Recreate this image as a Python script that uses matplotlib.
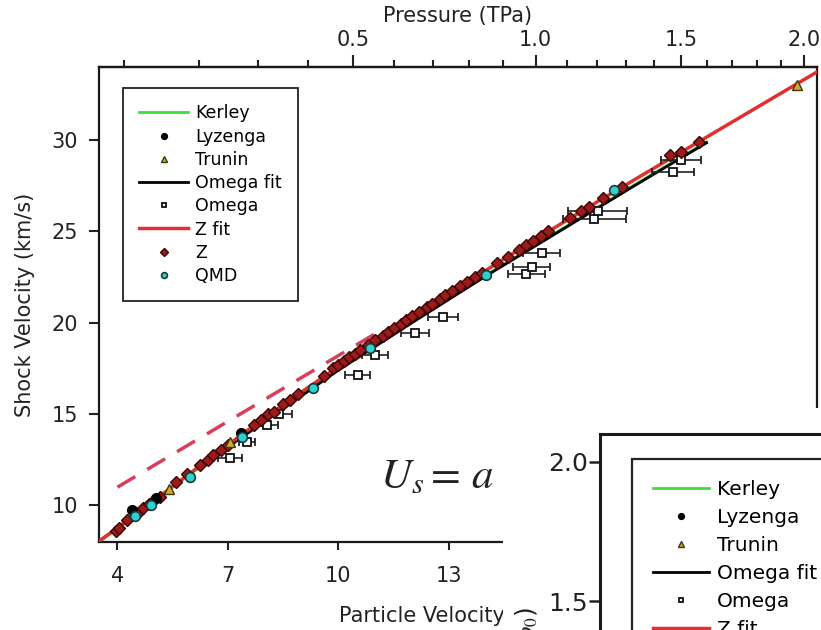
import numpy as np
import matplotlib
matplotlib.use('Agg')
import matplotlib.pyplot as plt
from matplotlib.patches import Rectangle
from matplotlib.ticker import FormatStrFormatter

plt.rcParams['font.family'] = ['DejaVu Sans']
plt.rcParams['mathtext.fontset'] = 'stix'

# --- data (particle velocity km/s, shock velocity km/s) ---
rho0 = 2.65  # g/cc, used for the pressure axis

zfit_up = [3.5, 4, 4.5, 5, 5.5, 6, 6.5, 7, 7.5, 8, 8.5, 9, 9.5, 10, 11, 12, 13,
           14, 15, 16, 17, 18, 19, 20, 21, 22, 23]
zfit_us = [8.05, 8.77, 9.51, 10.27, 11.04, 11.80, 12.56, 13.31, 14.06, 14.78,
           15.50, 16.21, 16.90, 17.59, 18.95, 20.28, 21.58, 22.86, 24.12, 25.36,
           26.58, 27.78, 28.97, 30.16, 31.35, 32.54, 33.73]

lin_up = [4.0, 11.0]
lin_us = [11.0, 19.4]

kerley_up = [3.5, 4, 5, 6, 7, 8, 10, 12, 14, 16, 18, 20]
kerley_us = [8.0, 8.75, 10.25, 11.75, 13.2, 14.65, 17.45, 20.05, 22.6, 25.05, 27.5, 29.9]

omfit_up = [6.5, 8, 10, 12, 14, 16, 18, 20]
omfit_us = [12.5, 14.6, 17.4, 20.0, 22.55, 25.0, 27.45, 29.85]

z_up = [3.95, 4.05, 4.25, 4.55, 4.7, 4.85, 5.0, 5.15, 5.6, 5.9, 6.25, 6.45, 6.6,
        6.8, 7.0, 7.7, 7.9, 8.1, 8.25, 8.5, 8.7, 8.9, 9.6, 9.85, 10.0, 10.15,
        10.3, 10.45, 10.6, 10.8, 11.0, 11.2, 11.35, 11.5, 11.7, 11.85, 12.0,
        12.2, 12.4, 12.55, 12.75, 12.9, 13.1, 13.3, 13.5, 13.7, 13.9, 14.3,
        14.6, 14.9, 15.1, 15.3, 15.5, 15.7, 16.3, 16.6, 16.8, 17.2, 17.7, 19.0,
        19.3, 19.8]
z_us = [8.62, 8.78, 9.2, 9.6, 9.85, 10.1, 10.3, 10.45, 11.3, 11.7, 12.2, 12.5,
        12.75, 13.05, 13.3, 14.4, 14.7, 15.0, 15.1, 15.55, 15.8, 16.1, 17.1,
        17.5, 17.7, 17.9, 18.1, 18.3, 18.5, 18.8, 19.05, 19.3, 19.5, 19.7,
        19.95, 20.15, 20.35, 20.6, 20.85, 21.05, 21.3, 21.5, 21.75, 22.0,
        22.25, 22.5, 22.75, 23.25, 23.6, 24.0, 24.25, 24.5, 24.75, 25.0, 25.75,
        26.1, 26.35, 26.85, 27.45, 29.2, 29.35, 29.9]

lyz_up = [4.4, 5.05, 7.35]
lyz_us = [9.75, 10.4, 13.95]

trunin_up = [5.4, 7.06, 22.45]
trunin_us = [10.9, 13.5, 33.0]

qmd_up = [4.49, 4.9, 5.98, 7.39, 9.31, 10.86, 14.0, 17.5]
qmd_us = [9.4, 10.05, 11.58, 13.77, 16.45, 18.63, 22.6, 27.25]

omega_up = [7.06, 7.52, 8.05, 8.4, 10.53, 10.99, 12.08, 12.84, 15.11, 15.25,
            15.52, 16.95, 17.04, 19.1, 19.31]
omega_us = [12.62, 13.5, 14.4, 15.0, 17.16, 18.25, 19.45, 20.33, 22.68, 23.06,
            23.83, 25.68, 26.1, 28.25, 28.9]
omega_err = [0.33, 0.22, 0.3, 0.35, 0.34, 0.35, 0.38, 0.4, 0.5, 0.5, 0.5, 0.85,
             0.8, 0.57, 0.55]

labels = ['Kerley', 'Lyzenga', 'Trunin', 'Omega fit', 'Omega', 'Z fit', 'Z', 'QMD']

W, H = 821, 630
fig = plt.figure(figsize=(W / 100, H / 100), dpi=100)
ax = fig.add_axes([99 / W, 88 / H, 718 / W, 475 / H])

h_ker, = ax.plot(kerley_up, kerley_us, color='#3ddc3d', lw=2, zorder=2)
h_om, = ax.plot(omfit_up, omfit_us, color='black', lw=2, zorder=2)
ax.plot(lin_up, lin_us, color='#d8405a', lw=2.5, dashes=(6, 4), zorder=2)
h_zf, = ax.plot(zfit_up, zfit_us, color='#e03030', lw=2.5, zorder=3)
eb = ax.errorbar(omega_up, omega_us, xerr=omega_err, fmt='s', ms=6, mfc='white',
                 mec='#111111', mew=1.3, ecolor='#222222', elinewidth=1.2,
                 capsize=3, zorder=4)
h_z, = ax.plot(z_up, z_us, 'D', ms=6.5, mfc='#9c1a1a', mec='#3b0505', mew=1,
               ls='none', zorder=5)
h_lyz, = ax.plot(lyz_up, lyz_us, 'o', ms=7, mfc='black', mec='black',
                 ls='none', zorder=5)
h_tr, = ax.plot(trunin_up, trunin_us, '^', ms=7, mfc='#d9a62a', mec='#3a3a10',
                mew=1, ls='none', zorder=5)
h_qmd, = ax.plot(qmd_up, qmd_us, 'o', ms=7, mfc='#2ed0d0', mec='#1a3a3a',
                 mew=1.2, ls='none', zorder=6)

handles = [h_ker, h_lyz, h_tr, h_om, eb[0], h_zf, h_z, h_qmd]

ax.set_xlim(3.5, 23)
ax.set_ylim(8, 34)
ax.set_xticks([4, 7, 10, 13, 16, 19, 22])
ax.set_yticks([10, 15, 20, 25, 30])
ax.tick_params(axis='x', length=6, width=1.5, direction='out', labelsize=15,
               pad=11, colors='#222222')
ax.tick_params(axis='y', length=7, width=1.5, direction='out', labelsize=15,
               pad=8, colors='#222222')
ax.tick_params(top=False, right=False)
for s in ax.spines.values():
    s.set_linewidth(1.6)
    s.set_color('#1a1a1a')
ax.set_xlabel('Particle Velocity (km/s)', fontsize=15, labelpad=15, color='#222222')
ax.set_ylabel('Shock Velocity (km/s)', fontsize=15, labelpad=12, color='#222222')

# pressure axis on top
up_grid = np.linspace(2, 25, 500)
us_grid = np.interp(up_grid, zfit_up, zfit_us)
p_grid = rho0 * us_grid * up_grid / 1000.0


def up_to_p(u):
    return np.interp(u, up_grid, p_grid)


def p_to_up(p):
    return np.interp(p, p_grid, up_grid)


sec = ax.secondary_xaxis('top', functions=(up_to_p, p_to_up))
sec.set_xticks([0.5, 1.0, 1.5, 2.0])
sec.set_xticks([0.1, 0.2, 0.3, 0.4, 0.6, 0.7, 0.8, 0.9, 1.1, 1.2, 1.3, 1.4,
                1.6, 1.7, 1.8, 1.9], minor=True)
sec.xaxis.set_major_formatter(FormatStrFormatter('%.1f'))
sec.tick_params(which='major', length=9, width=1.5, labelsize=15, pad=3,
                colors='#222222')
sec.tick_params(which='minor', length=5, width=1.5, colors='#222222')
sec.spines['top'].set_linewidth(1.6)
sec.set_xlabel('Pressure (TPa)', fontsize=15, labelpad=6, color='#222222')

leg = ax.legend(handles, labels, loc='upper left',
                bbox_to_anchor=(24 / 718, (542 - 88) / 475), borderaxespad=0,
                fontsize=12.5, fancybox=False, edgecolor='#222222',
                framealpha=1, handlelength=2.8, handletextpad=0.4,
                labelspacing=0.3, borderpad=0.95, markerscale=0.6)
leg.get_frame().set_linewidth(1.3)

ax.text((380 - 99) / 718, (542 - 488) / 475,
        r'$U_s = \,a\;+\;b u_p - c u_p\,\exp(-d u_p)$', transform=ax.transAxes,
        fontsize=31, ha='left', va='baseline', color='#222222')

# white block from the overlapping panel
fig.patches.append(Rectangle((503 / W, 0), 1 - 503 / W, (H - 408) / H,
                             transform=fig.transFigure, facecolor='white',
                             edgecolor='none', zorder=1))

# second panel (cut off at bottom right)
iax = fig.add_axes([600 / W, -250 / H, 0.5, 446 / H])
iax.set_zorder(2)
iax.set_ylim(0.5, 2.1)
iax.set_xlim(0, 1)
iax.set_xticks([])
iax.set_yticks([1.0, 1.5, 2.0])
iax.yaxis.set_major_formatter(FormatStrFormatter('%.1f'))
iax.tick_params(axis='y', length=8, width=1.8, labelsize=18, pad=1,
                colors='#222222')
for s in iax.spines.values():
    s.set_linewidth(2.2)
    s.set_color('#1a1a1a')

leg2 = iax.legend(handles, labels, loc='upper left',
                  bbox_to_anchor=(632 / W, (H - 459) / H),
                  bbox_transform=fig.transFigure, borderaxespad=0,
                  fontsize=14.5, fancybox=False, edgecolor='#222222',
                  framealpha=1, handlelength=2.75, handletextpad=0.4,
                  labelspacing=0.45, borderpad=1.05, markerscale=0.6)
leg2.get_frame().set_linewidth(1.6)

fig.text(527 / W, (H - 607) / H, r'Compression ($\rho/\rho_0$)', rotation=90,
         ha='center', va='top', fontsize=18, color='#222222', zorder=4)

fig.savefig('out.png', dpi=100)
